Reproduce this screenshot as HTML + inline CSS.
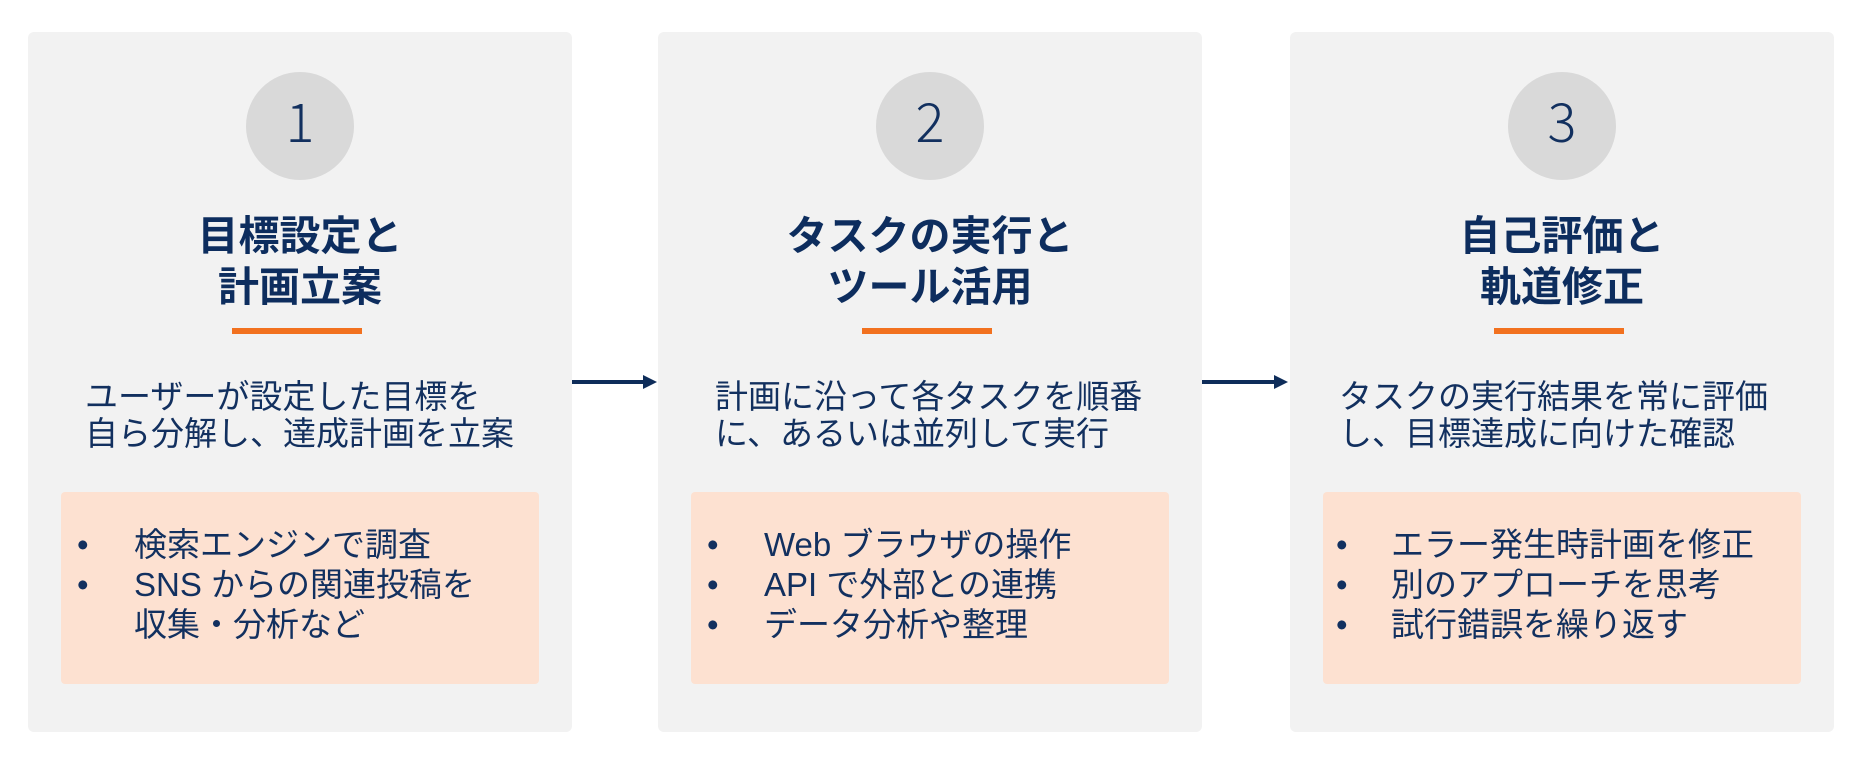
<!DOCTYPE html>
<html>
<head>
<meta charset="utf-8">
<style>
  html, body { margin: 0; padding: 0; }
  body { width: 1868px; height: 760px; background: #ffffff; position: relative; overflow: hidden;
         font-family: "Liberation Sans", "Noto Sans CJK JP", sans-serif; color: #12305f; }
  .panel { position: absolute; top: 32px; width: 544px; height: 700px; background: #f2f2f2; border-radius: 6px; }
  .circle { position: absolute; width: 108px; height: 108px; border-radius: 50%; background: #d9d9d9; top: 72px; }
  .num { position: absolute; top: 92px; width: 108px; text-align: center; font-size: 54px; line-height: 54px;
         font-family: "Noto Sans CJK JP", "Liberation Sans", sans-serif; font-weight: 300; color: #12305f; }
  .title { position: absolute; top: 211px; width: 544px; text-align: center; font-size: 41px; line-height: 51px;
           font-weight: 700; color: #0d2d5e; font-family: "Liberation Sans", "Noto Sans CJK JP", sans-serif; white-space: nowrap; }
  .uline { position: absolute; top: 328px; width: 130px; height: 6px; background: #f2711f; }
  .desc { position: absolute; top: 378px; font-size: 33px; line-height: 37px; white-space: nowrap; color: #12305f; }
  .box { position: absolute; top: 492px; width: 478px; height: 192px; background: #fde1d1; border-radius: 4px; }
  .bl { position: absolute; font-size: 33px; line-height: 40px; white-space: nowrap; color: #12305f; }
</style>
</head>
<body>
  <!-- Panels -->
  <div class="panel" style="left:28px;"></div>
  <div class="panel" style="left:658px;"></div>
  <div class="panel" style="left:1290px;"></div>

  <!-- Circles -->
  <div class="circle" style="left:246px;"></div>
  <div class="num" style="left:246px;">1</div>
  <div class="circle" style="left:876px;"></div>
  <div class="num" style="left:876px;">2</div>
  <div class="circle" style="left:1508px;"></div>
  <div class="num" style="left:1508px;">3</div>

  <!-- Titles -->
  <div class="title" style="left:28px;">目標設定と<br>計画立案</div>
  <div class="title" style="left:658px;">タスクの実行と<br>ツール活用</div>
  <div class="title" style="left:1290px;">自己評価と<br>軌道修正</div>

  <!-- Underlines -->
  <div class="uline" style="left:232px;"></div>
  <div class="uline" style="left:862px;"></div>
  <div class="uline" style="left:1494px;"></div>

  <!-- Descriptions -->
  <div class="desc" style="left:85px;">ユーザーが設定した目標を<br>自ら分解し、達成計画を立案</div>
  <div class="desc" style="left:715px;">計画に沿って各タスクを順番<br>に、あるいは並列して実行</div>
  <div class="desc" style="left:1339px;">タスクの実行結果を常に評価<br>し、目標達成に向けた確認</div>

  <!-- Boxes -->
  <div class="box" style="left:61px;"></div>
  <div class="box" style="left:691px;"></div>
  <div class="box" style="left:1323px;"></div>

  <!-- Bullets panel 1 -->
  <div class="bl" style="left:77px; top:525px;">•<br>•</div>
  <div class="bl" style="left:134px; top:525px;">検索エンジンで調査<br>SNS からの関連投稿を<br>収集・分析など</div>

  <!-- Bullets panel 2 -->
  <div class="bl" style="left:707px; top:525px;">•<br>•<br>•</div>
  <div class="bl" style="left:764px; top:525px;">Web ブラウザの操作<br>API で外部との連携<br>データ分析や整理</div>

  <!-- Bullets panel 3 -->
  <div class="bl" style="left:1336px; top:525px;">•<br>•<br>•</div>
  <div class="bl" style="left:1391px; top:525px;">エラー発生時計画を修正<br>別のアプローチを思考<br>試行錯誤を繰り返す</div>

  <!-- Arrows -->
  <svg style="position:absolute; left:0; top:0;" width="1868" height="760">
    <line x1="572" y1="382" x2="646" y2="382" stroke="#0e2d5a" stroke-width="4"/>
    <polygon points="643,375 657,382 643,389" fill="#0e2d5a"/>
    <line x1="1202" y1="382" x2="1277" y2="382" stroke="#0e2d5a" stroke-width="4"/>
    <polygon points="1274,375 1288,382 1274,389" fill="#0e2d5a"/>
  </svg>
</body>
</html>
